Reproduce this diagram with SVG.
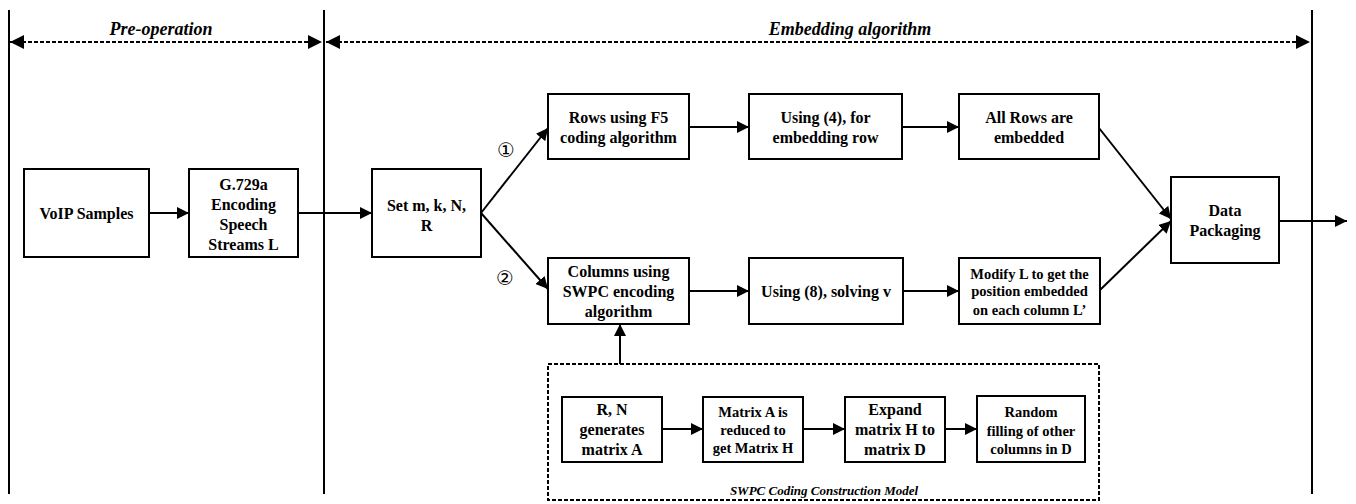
<svg xmlns="http://www.w3.org/2000/svg" width="1356" height="504" viewBox="0 0 1356 504">
  <style>
    .box { fill: #fff; stroke: #000; stroke-width: 2; }
    .t { font-family: "Liberation Serif", "Times New Roman", serif; font-weight: bold; font-size: 16px; fill: #000; text-anchor: middle; }
    .s { font-size: 14.5px; }
    .hdr { font-family: "Liberation Serif", "Times New Roman", serif; font-weight: bold; font-style: italic; font-size: 18px; fill: #000; text-anchor: middle; }
    .cap { font-size: 13px; }
    .num { font-family: "DejaVu Sans", sans-serif; font-size: 20px; fill: #000; text-anchor: middle; }
    .ln { stroke: #000; stroke-width: 2; fill: none; }
    .arr { stroke: #000; stroke-width: 2; fill: none; marker-end: url(#ah); }
    .dash { stroke: #000; stroke-width: 2; fill: none; stroke-dasharray: 4 2; }
  </style>
  <defs>
    <marker id="ah" viewBox="0 0 10 10" refX="10" refY="5" markerWidth="6" markerHeight="6" markerUnits="strokeWidth" orient="auto">
      <path d="M0,0 L10,5 L0,10 z" fill="#000"/>
    </marker>
    <marker id="ahs" viewBox="0 0 10 10" refX="0" refY="5" markerWidth="7" markerHeight="7" markerUnits="strokeWidth" orient="auto">
      <path d="M10,0 L0,5 L10,10 z" fill="#000"/>
    </marker>
    <marker id="ahe" viewBox="0 0 10 10" refX="10" refY="5" markerWidth="7" markerHeight="7" markerUnits="strokeWidth" orient="auto">
      <path d="M0,0 L10,5 L0,10 z" fill="#000"/>
    </marker>
  </defs>

  <!-- phase separators -->
  <g id="phases">
    <line class="ln" x1="9" y1="10" x2="9" y2="494"/>
    <line class="ln" x1="324" y1="10" x2="324" y2="494"/>
    <line class="ln" x1="1312" y1="10" x2="1312" y2="494"/>
    <line class="dash" x1="10" y1="42" x2="322" y2="42" marker-start="url(#ahs)" marker-end="url(#ahe)"/>
    <line class="dash" x1="326" y1="42" x2="1310" y2="42" marker-start="url(#ahs)" marker-end="url(#ahe)"/>
    <text class="hdr" x="161" y="35">Pre-operation</text>
    <text class="hdr" x="850" y="35">Embedding algorithm</text>
  </g>

  <!-- connectors -->
  <g id="connectors">
    <line class="arr" x1="149" y1="213" x2="189" y2="213"/>
    <line class="arr" x1="298" y1="213" x2="372" y2="213"/>
    <line class="arr" x1="481" y1="213" x2="548" y2="128"/>
    <line class="arr" x1="481" y1="213" x2="548" y2="289"/>
    <line class="arr" x1="689" y1="127" x2="749" y2="127"/>
    <line class="arr" x1="902" y1="127" x2="959" y2="127"/>
    <line class="arr" x1="689" y1="291" x2="749" y2="291"/>
    <line class="arr" x1="903" y1="291" x2="959" y2="291"/>
    <line class="arr" x1="1099" y1="128" x2="1171" y2="219"/>
    <line class="arr" x1="1100" y1="290" x2="1171" y2="221"/>
    <line class="arr" x1="1279" y1="221" x2="1347" y2="221"/>
    <line class="arr" x1="620" y1="364" x2="620" y2="324"/>
    <line class="arr" x1="662" y1="429" x2="703" y2="429"/>
    <line class="arr" x1="803" y1="429" x2="845" y2="429"/>
    <line class="arr" x1="945" y1="429" x2="977" y2="429"/>
    <text class="num" x="506" y="157">①</text>
    <text class="num" x="505" y="285">②</text>
  </g>

  <g id="voip">
    <rect class="box" x="24" y="169" width="125" height="88"/>
    <text class="t" x="86.5" y="219">VoIP Samples</text>
  </g>
  <g id="g729a">
    <rect class="box" x="189" y="169" width="109" height="88"/>
    <text class="t" x="243.5" y="190">G.729a</text>
    <text class="t" x="243.5" y="210">Encoding</text>
    <text class="t" x="243.5" y="230">Speech</text>
    <text class="t" x="243.5" y="250">Streams  L</text>
  </g>
  <g id="setparams">
    <rect class="box" x="372" y="169" width="109" height="88"/>
    <text class="t" x="426.5" y="211">Set  m, k, N,</text>
    <text class="t" x="426.5" y="231">R</text>
  </g>
  <g id="rows-f5">
    <rect class="box" x="548" y="94" width="141" height="65"/>
    <text class="t" x="618.5" y="123">Rows using F5</text>
    <text class="t" x="618.5" y="143">coding algorithm</text>
  </g>
  <g id="using4">
    <rect class="box" x="749" y="94" width="153" height="65"/>
    <text class="t" x="825.5" y="123">Using  (4), for</text>
    <text class="t" x="825.5" y="143">embedding row</text>
  </g>
  <g id="allrows">
    <rect class="box" x="959" y="94" width="140" height="65"/>
    <text class="t" x="1029" y="123">All Rows are</text>
    <text class="t" x="1029" y="143">embedded</text>
  </g>
  <g id="columns-swpc">
    <rect class="box" x="548" y="258" width="141" height="66"/>
    <text class="t" x="618.5" y="277">Columns using</text>
    <text class="t" x="618.5" y="297">SWPC encoding</text>
    <text class="t" x="618.5" y="317">algorithm</text>
  </g>
  <g id="using8">
    <rect class="box" x="749" y="258" width="154" height="66"/>
    <text class="t" x="826" y="297">Using  (8), solving v</text>
  </g>
  <g id="modify">
    <rect class="box" x="959" y="258" width="141" height="66"/>
    <text class="t s" x="1029.5" y="279">Modify L to get the</text>
    <text class="t s" x="1029.5" y="296">position embedded</text>
    <text class="t s" x="1029.5" y="315">on each column L’</text>
  </g>
  <g id="packaging">
    <rect class="box" x="1171" y="177" width="108" height="86"/>
    <text class="t" x="1225" y="216">Data</text>
    <text class="t" x="1225" y="236">Packaging</text>
  </g>

  <!-- SWPC construction sub-model -->
  <g id="swpc-model">
    <rect class="dash" x="548" y="364" width="551" height="136"/>
    <text class="hdr cap" x="824" y="495">SWPC Coding Construction Model</text>
  </g>
  <g id="gen-a">
    <rect class="box" x="562" y="397" width="100" height="65"/>
    <text class="t" x="612" y="415">R, N</text>
    <text class="t" x="612" y="435">generates</text>
    <text class="t" x="612" y="455">matrix A</text>
  </g>
  <g id="reduce-h">
    <rect class="box" x="703" y="397" width="100" height="65"/>
    <text class="t s" x="753" y="417">Matrix A is</text>
    <text class="t s" x="753" y="435">reduced to</text>
    <text class="t s" x="753" y="453">get Matrix H</text>
  </g>
  <g id="expand-d">
    <rect class="box" x="845" y="397" width="100" height="65"/>
    <text class="t" x="895" y="415">Expand</text>
    <text class="t" x="895" y="435">matrix H to</text>
    <text class="t" x="895" y="455">matrix D</text>
  </g>
  <g id="random-fill">
    <rect class="box" x="977" y="396" width="108" height="66"/>
    <text class="t s" x="1031" y="417">Random</text>
    <text class="t s" x="1031" y="436">filling of other</text>
    <text class="t s" x="1031" y="454">columns in D</text>
  </g>
</svg>
